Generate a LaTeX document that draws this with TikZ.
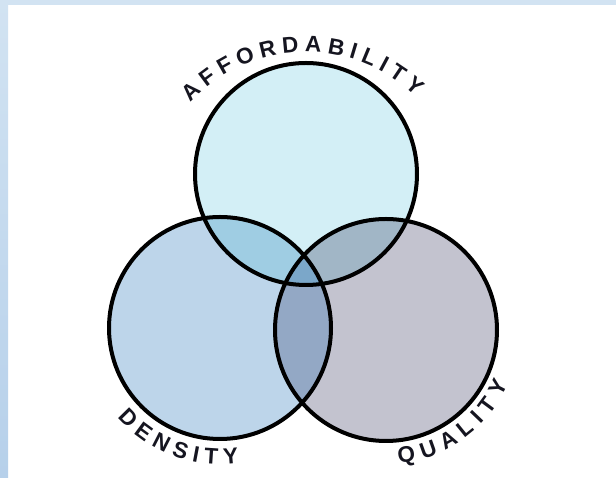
\documentclass[tikz,border=0pt]{standalone}
\usepackage{fontspec}
\setmainfont{Liberation Sans}
\definecolor{frameA}{HTML}{D2E3F2}
\definecolor{frameB}{HTML}{B6D0EA}
\definecolor{topc}{HTML}{D3EFF6}
\definecolor{leftc}{HTML}{BDD5EA}
\definecolor{rightc}{HTML}{C3C3CF}
\definecolor{tlc}{HTML}{9FCDE3}
\definecolor{trc}{HTML}{A1B6C6}
\definecolor{lrc}{HTML}{93A8C5}
\definecolor{allc}{HTML}{7BA7C9}
\definecolor{txt}{HTML}{151520}
\newcommand\labelfont{\fontsize{22.5}{26}\selectfont\bfseries}
% #1 centre name, #2 radius, #3 start angle, #4 end angle, #5 direction (1 ccw, -1 cw), #6 letters, #7 name prefix
\newcommand\arcword[7]{%
  \begingroup\labelfont
  \gdef\arctot{0}\gdef\arcn{0}%
  \foreach \ch in {#6}{\pgfmathsetmacro\w{width("\ch")}\pgfmathsetmacro\t{\arctot+\w}\xdef\arctot{\t}\pgfmathtruncatemacro\nn{\arcn+1}\xdef\arcn{\nn}}%
  \pgfmathsetmacro\trk{(abs(#4-#3)*pi/180*#2-\arctot)/(\arcn-1)}%
  \gdef\arcacc{0}%
  \foreach \ch [count=\i] in {#6}{%
    \pgfmathsetmacro\w{width("\ch")}%
    \pgfmathsetmacro\ang{#3+#5*(\arcacc+\w/2)/#2*180/pi}%
    \pgfmathsetmacro\rot{\ang+#5*90}%
    \node[lab,rotate=\rot] (#7\i) at ([shift={(\ang:#2)}]#1) {\ch};%
    \pgfmathsetmacro\t{\arcacc+\w+\trk}\xdef\arcacc{\t}}%
  \endgroup}
\begin{document}
\begin{tikzpicture}[x=1pt,y=1pt,
  ring/.style={draw=black,line width=4pt},
  lab/.style={font=\labelfont,text=txt,anchor=base,inner sep=0pt,outer sep=0pt}]
\useasboundingbox (0,0) rectangle (616,478);
\fill[white] (0,0) rectangle (616,478);
\shade[top color=frameA,bottom color=frameB] (0,0) rectangle (8,478);
\fill[frameA] (0,473) rectangle (616,478);
\coordinate (T) at (306,304);
\coordinate (L) at (220,150);
\coordinate (R) at (386,148);
\def\rr{111}
\fill[topc] (T) circle (\rr);
\fill[leftc] (L) circle (\rr);
\fill[rightc] (R) circle (\rr);
\begin{scope}
  \clip (T) circle (\rr);
  \fill[tlc] (L) circle (\rr);
  \fill[trc] (R) circle (\rr);
\end{scope}
\begin{scope}
  \clip (L) circle (\rr);
  \fill[lrc] (R) circle (\rr);
  \clip (T) circle (\rr);
  \fill[allc] (R) circle (\rr);
\end{scope}
\draw[ring] (T) circle (\rr);
\draw[ring] (L) circle (\rr);
\draw[ring] (R) circle (\rr);
% labels
\coordinate (Ta) at (306,268);
\coordinate (La) at (220,150);
\coordinate (Ra) at (386,148);
\arcword{Ta}{158}{137}{46}{-1}{A,F,F,O,R,D,A,B,I,L,I,T,Y}{aff}
\arcword{La}{136}{221}{278}{1}{D,E,N,S,I,T,Y}{den}
\arcword{Ra}{134}{275.5}{336}{1}{Q,U,A,L,I,T,Y}{qua}
\end{tikzpicture}
\end{document}
